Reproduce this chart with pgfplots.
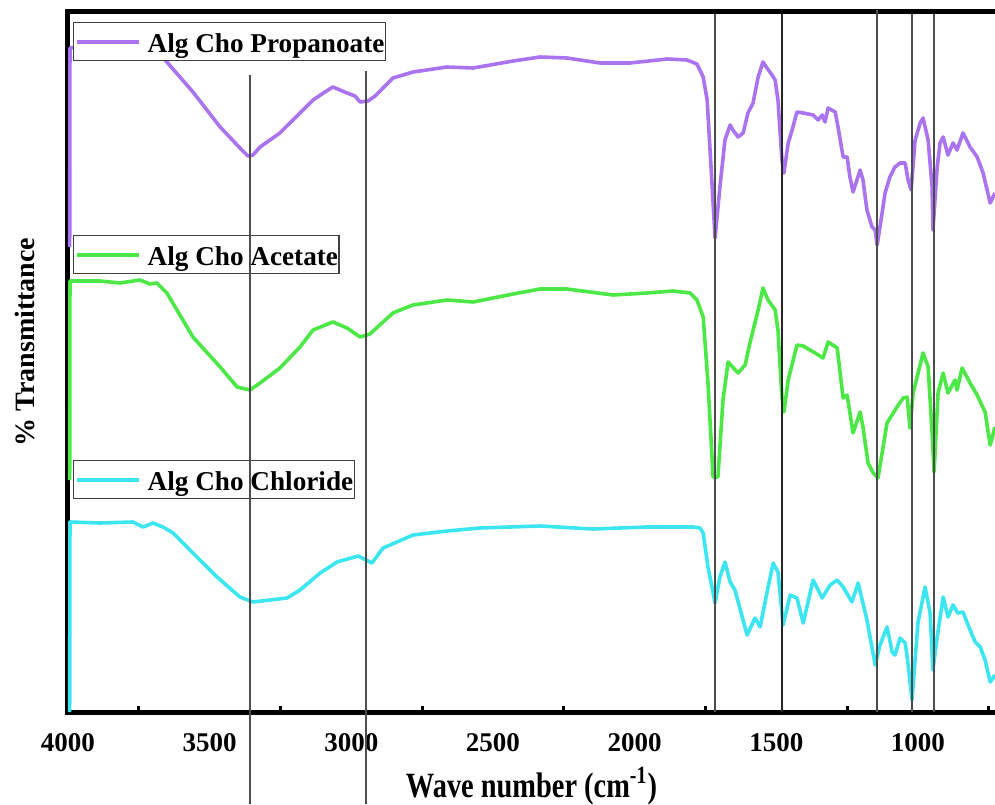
\documentclass[border=0pt]{standalone}
\usepackage{pgfplots}
\pgfplotsset{compat=1.18}
\usepackage{fontspec}
\setmainfont{Liberation Serif}
\usetikzlibrary{calc}

\definecolor{cpurple}{RGB}{170,115,240}
\definecolor{cgreen}{RGB}{75,232,70}
\definecolor{ccyan}{RGB}{60,230,240}
\newcommand\lfont{\fontsize{13.5}{16}\selectfont\bfseries}
\newcommand\legfont{\fontsize{13.6}{16}\selectfont\bfseries}

\begin{document}
\begin{tikzpicture}
\begin{axis}[
  scale only axis, width=463.5pt, height=350pt,
  x dir=reverse, xmin=728, xmax=4000, ymin=0, ymax=700,
  clip=false,
  axis line style={draw=none},
  xtick={4000,3500,3000,2500,2000,1500,1000},
  xticklabels={4000,3500,3000,2500,2000,1500,1000},
  scaled x ticks=false,
  minor xtick={3750,3250,2750,2250,1750,1250,750},
  major tick length=0pt, minor tick length=3pt,
  every minor tick/.style={line width=1.5pt, black},
  tick align=inside, xtick pos=left,
  ytick=\empty,
  /pgf/number format/assume math mode=true,
  ticklabel style={font=\lfont},
  xticklabel style={yshift=-7pt},
  xlabel={\scalebox{1}[1.25]{Wave number (cm\textsuperscript{-1})}},
  ylabel={\% Transmittance},
  every axis x label/.style={at={(axis description cs:0.5,0)}, anchor=base, yshift=-42.5pt,
    font=\fontsize{14.2}{16}\selectfont\bfseries},
  every axis y label/.style={at={(axis description cs:0,0.5286)}, rotate=90, anchor=base, yshift=16.5pt,
    font=\fontsize{14}{16}\selectfont\bfseries},
  every axis plot/.append style={line width=1.8pt, line join=round},
]
\coordinate (sw) at (rel axis cs:0,0);
\coordinate (ne) at (rel axis cs:1,1);
\draw[line width=2.5pt, line join=miter] (rel axis cs:1,1) -- (rel axis cs:0,1) -- (rel axis cs:0,0) -- (rel axis cs:1,0);

% Alg Cho Propanoate
\addplot[cpurple] coordinates {
(3994,465) (3993,664) (3887,668) (3780,668) (3720,664) (3686,660)
(3651,650) (3605,635) (3559,620) (3463,585) (3393,564) (3365,556) (3347,557)
(3322,565) (3252,579) (3181,599) (3135,612) (3093,620) (3065,625) (3015,619)
(2987,616) (2969,610) (2941,611) (2916,616) (2888,624) (2853,634) (2782,640)
(2662,645) (2570,644) (2429,651) (2334,655) (2239,654) (2122,649) (2016,649)
(1885,653) (1815,652) (1780,648) (1758,635) (1744,612) (1727,529) (1716,474)
(1699,525) (1681,572) (1663,587) (1653,582) (1635,575) (1617,579) (1600,599)
(1582,609) (1564,635) (1547,650) (1533,644) (1515,637) (1504,632) (1494,612)
(1480,552) (1473,539) (1458,569) (1444,582) (1427,600) (1405,599) (1370,597)
(1352,592) (1338,597) (1328,590) (1317,604) (1292,600) (1282,585) (1264,555)
(1250,555) (1240,535) (1229,520) (1204,542) (1194,532) (1180,502) (1162,485)
(1151,482) (1144,467) (1134,485) (1116,519) (1099,535) (1081,545) (1063,549)
(1045,549) (1035,532) (1024,522) (1010,572) (992,589) (982,594) (964,572)
(950,525) (947,482) (932,545) (922,569) (911,575) (894,557) (876,569)
(862,562) (841,579) (816,565) (791,555) (770,539) (745,509) (728,519)
};

% Alg Cho Acetate
\addplot[cgreen] coordinates {
(3994,232) (3993,431) (3887,431) (3816,429) (3746,432) (3711,428) (3686,429)
(3651,419) (3605,397) (3559,375) (3463,345) (3403,325) (3358,322) (3322,329)
(3252,344) (3181,365) (3135,382) (3065,390) (3015,384) (2969,375) (2934,378)
(2888,390) (2853,399) (2828,402) (2782,407) (2662,412) (2570,410) (2429,418)
(2334,423) (2239,423) (2076,417) (1956,419) (1864,421) (1804,419) (1780,412)
(1758,395) (1741,329) (1723,235) (1706,235) (1688,312) (1670,350) (1635,339)
(1610,347) (1593,369) (1564,402) (1547,424) (1529,412) (1504,402) (1494,382)
(1480,315) (1473,300) (1458,332) (1427,367) (1405,366) (1363,359) (1335,354)
(1317,370) (1285,364) (1264,314) (1250,317) (1229,279) (1204,300) (1194,285)
(1176,249) (1158,239) (1141,234) (1109,289) (1074,305) (1052,314) (1038,315)
(1028,284) (1017,319) (982,359) (964,345) (950,279) (943,240) (929,319)
(911,339) (894,319) (869,332) (862,322) (844,344) (816,329) (791,317)
(763,300) (745,267) (728,285)
};

% Alg Cho Chloride
\addplot[ccyan] coordinates {
(3994,0) (3993,190) (3887,189) (3771,190) (3735,185) (3700,189) (3665,185)
(3629,179) (3559,159) (3474,135) (3393,115) (3347,110) (3227,114) (3181,122)
(3110,139) (3050,150) (2976,156) (2927,149) (2888,164) (2839,170) (2782,177)
(2662,181) (2546,184) (2334,186) (2147,183) (1956,185) (1794,185) (1769,184)
(1758,179) (1741,145) (1727,125) (1716,109) (1699,135) (1681,150) (1663,130)
(1646,122) (1603,77) (1575,94) (1557,85) (1533,119) (1511,149) (1494,140)
(1476,87) (1451,117) (1427,114) (1405,89) (1370,132) (1338,114) (1310,127)
(1285,132) (1264,125) (1233,110) (1211,129) (1180,92) (1151,47) (1134,67)
(1109,85) (1091,60) (1081,57) (1063,74) (1045,69) (1035,49) (1021,12)
(1000,89) (975,125) (957,99) (947,42) (932,75) (911,115) (894,95)
(876,107) (859,99) (841,100) (816,82) (798,70) (780,65) (763,52)
(745,30) (728,37)
};

% legend boxes
\tikzset{legbox/.style={draw=black!75, line width=0.6pt, fill=white, anchor=north west,
  inner xsep=0.5pt, inner ysep=0pt, text height=14.9pt, text depth=4pt, font=\legfont}}
\node[legbox] at (axis cs:3982,690) {\tikz[baseline=-5pt]\draw[cpurple, line width=2pt] (0,0)--(31pt,0);\hspace{3.5pt}Alg Cho Propanoate\hspace{1pt}};
\node[legbox] at (axis cs:3982,477) {\tikz[baseline=-5pt]\draw[cgreen, line width=2pt] (0,0)--(31pt,0);\hspace{3.5pt}Alg Cho Acetate\hspace{1pt}};
\node[legbox] at (axis cs:3982,252) {\tikz[baseline=-5pt]\draw[ccyan, line width=2pt] (0,0)--(31pt,0);\hspace{3.5pt}Alg Cho Chloride\hspace{1pt}};

% band markers
\draw[black!70, line width=0.7pt] (axis cs:3358,637) -- (axis cs:3358,-92);
\draw[black!70, line width=0.7pt] (axis cs:2948,641) -- (axis cs:2948,-92);
\draw[black!70, line width=0.7pt] (axis cs:1716,698) -- (axis cs:1716,0);
\draw[black!85, line width=0.7pt] (axis cs:1480,698) -- (axis cs:1480,0);
\draw[black!70, line width=0.7pt] (axis cs:1144,702) -- (axis cs:1144,0);
\draw[black!70, line width=0.7pt] (axis cs:1021,698) -- (axis cs:1021,0);
\draw[black!70, line width=0.7pt] (axis cs:943,698) -- (axis cs:943,0);
\end{axis}
\pgfresetboundingbox
\path[use as bounding box] ($(sw)+(-34pt,-46pt)$) rectangle ($(ne)+(0,6pt)$);
\end{tikzpicture}
\end{document}
